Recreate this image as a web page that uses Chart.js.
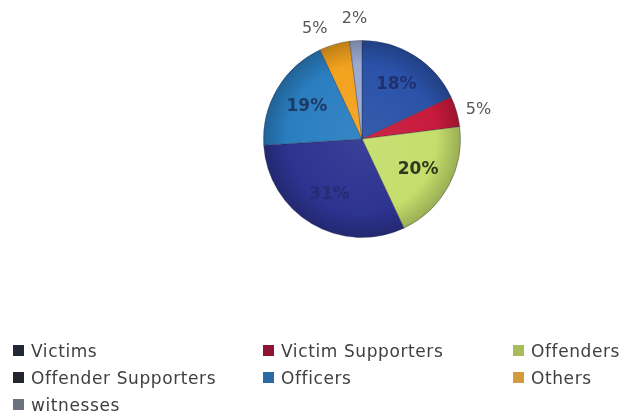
<!DOCTYPE html>
<html>
<head>
<meta charset="utf-8">
<script src="https://cdn.jsdelivr.net/npm/chart.js@4"></script>
<style>
  html, body { margin: 0; padding: 0; background: #fff; }
  #wrap { position: relative; width: 626px; height: 419px; }
  #chartBox { position: absolute; left: 0; top: 0; width: 626px; height: 280px; }
  #legend { position: absolute; left: 0; top: 0; width: 626px; height: 419px;
    font-family: "DejaVu Sans", sans-serif; font-size: 17px; letter-spacing: 0.6px; color: #404040; }
  .item { position: absolute; height: 20px; line-height: 20px; white-space: nowrap; }
  .box { position: absolute; left: 0; top: 4px; width: 11px; height: 11px; }
  .txt { position: absolute; left: 18px; top: 0; }
</style>
</head>
<body>
<div id="wrap">
  <div id="chartBox"><canvas id="c"></canvas></div>
  <div id="legend"></div>
</div>
<script>
const categories = ["Victims", "Victim Supporters", "Offenders", "Offender Supporters", "Officers", "Others", "witnesses"];
const shares = [18, 5, 20, 31, 19, 5, 2];
const sliceColors = ["#2a52a8", "#c81a3c", "#c4de6c", "#2d3390", "#2a7ec0", "#f2a21e", "#9aaad2"];
const legendColors = ["#232838", "#8e1434", "#a8bc5c", "#23252e", "#2a68a6", "#d49a3c", "#6a7280"];
const labelColors = ["#22306e", "#555555", "#2c3820", "#282c74", "#1d3a66", "#555555", "#555555"];
const outsideLabel = [false, true, false, false, false, true, true];
// small angular nudges (degrees) so the thin-slice labels don't collide
const labelNudge = [0, 2, 0, 0, 0, -7, 0];

function shade(hex, f) {
  const n = parseInt(hex.slice(1), 16);
  let r = (n >> 16) & 255, g = (n >> 8) & 255, b = n & 255;
  const mix = v => f >= 0 ? Math.round(v + (255 - v) * f) : Math.round(v * (1 + f));
  return "rgb(" + mix(r) + "," + mix(g) + "," + mix(b) + ")";
}

// Radial shading: lighter towards the middle, darker at the rim
function sliceFill(ctx) {
  const chart = ctx.chart;
  const area = chart.chartArea;
  const base = sliceColors[ctx.dataIndex];
  if (!area) return base;
  const cx = (area.left + area.right) / 2;
  const cy = (area.top + area.bottom) / 2;
  const r = Math.min(area.right - area.left, area.bottom - area.top) / 2;
  const g = chart.ctx.createRadialGradient(cx, cy, 0, cx, cy, r);
  g.addColorStop(0, shade(base, 0.06));
  g.addColorStop(0.75, base);
  g.addColorStop(1, shade(base, -0.22));
  return g;
}

// Percent labels: inside the large slices, just outside the thin ones
const pctLabels = {
  id: "pctLabels",
  afterDatasetsDraw(chart) {
    const ctx = chart.ctx;
    const meta = chart.getDatasetMeta(0);
    ctx.save();
    ctx.textAlign = "center";
    ctx.textBaseline = "middle";
    meta.data.forEach((arc, i) => {
      const mid = (arc.startAngle + arc.endAngle) / 2 + labelNudge[i] * Math.PI / 180;
      const r = outsideLabel[i] ? arc.outerRadius * 1.22 : arc.outerRadius * 0.65;
      const x = arc.x + Math.cos(mid) * r;
      const y = arc.y + Math.sin(mid) * r;
      ctx.font = outsideLabel[i] ? "16px 'DejaVu Sans', sans-serif" : "bold 17px 'DejaVu Sans', sans-serif";
      ctx.fillStyle = labelColors[i];
      ctx.fillText(shares[i] + "%", x, y);
    });
    ctx.restore();
  }
};

new Chart(document.getElementById("c"), {
  type: "pie",
  data: {
    labels: categories,
    datasets: [{
      data: shares,
      backgroundColor: sliceFill,
      borderColor: "rgba(40,40,60,0.35)",
      borderWidth: 1
    }]
  },
  options: {
    responsive: true,
    maintainAspectRatio: false,
    animation: false,
    layout: { padding: { left: 160, right: 62, top: 40, bottom: 42 } },
    plugins: { legend: { display: false }, tooltip: { enabled: false } }
  },
  plugins: [pctLabels]
});

// Three-column legend below the pie
const colX = [13, 263, 513];
const rowY = [341, 368, 395];
const legend = document.getElementById("legend");
categories.forEach((name, i) => {
  const el = document.createElement("div");
  el.className = "item";
  el.style.left = colX[i % 3] + "px";
  el.style.top = rowY[Math.floor(i / 3)] + "px";
  el.innerHTML = '<span class="box" style="background:' + legendColors[i] + '"></span><span class="txt">' + name + '</span>';
  legend.appendChild(el);
});
</script>
</body>
</html>
